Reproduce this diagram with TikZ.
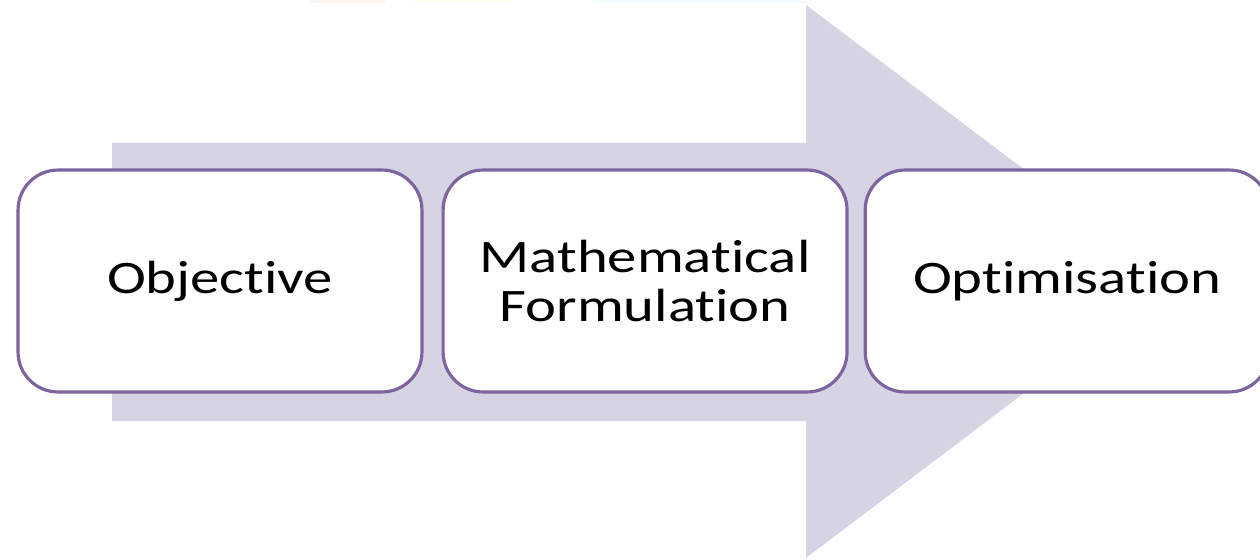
\documentclass[tikz,border=0pt]{standalone}
\usepackage{fontspec}
\setmainfont{Carlito}[Ligatures={NoCommon}]
\usepackage{graphicx}
\usepackage{tikz}
\usetikzlibrary{positioning}

\definecolor{arrowfill}{HTML}{D6D3E3}
\definecolor{boxline}{HTML}{7E649E}
\newcommand{\wide}[1]{\scalebox{1.26}[1]{#1}}

\begin{document}
\begin{tikzpicture}[x=0.02cm, y=-0.02cm,
	stage/.style={draw=boxline, line width=1.8pt, fill=white, rounded corners=0.8cm,
		minimum width=8.08cm, minimum height=4.44cm, align=center, inner sep=0pt,
		font=\fontsize{26.5}{28}\selectfont}]
	\useasboundingbox (0,0) rectangle (1260,560);
	% faint strip along the top edge
	\fill[red!4] (310,0) rectangle (385,3);
	\fill[yellow!6] (413,0) rectangle (513,3);
	\fill[cyan!4] (593,0) rectangle (807,3);
	% big background arrow
	\fill[arrowfill] (112,143) -- (806,143) -- (806,5) -- (1172,281) -- (806,558) -- (806,421) -- (112,421) -- cycle;
	% the three stages
	\node[stage] (obj) at (220,281) {\wide{Objective}};
	\node[stage, right=0.36cm of obj] (form) {\wide{Mathematical}\\\wide{Formulation}};
	\node[stage, right=0.30cm of form] (opt) {\wide{Optimisation}};
\end{tikzpicture}
\end{document}
